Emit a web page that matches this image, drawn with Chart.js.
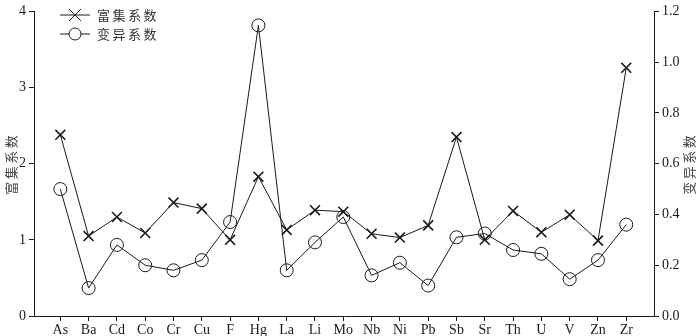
<!DOCTYPE html>
<html>
<head>
<meta charset="utf-8">
<script src="https://cdn.jsdelivr.net/npm/chart.js@4"></script>
<style>
  html, body { margin: 0; padding: 0; background: #fff; }
  #wrap { width: 700px; height: 336px; }
</style>
</head>
<body>
<div id="wrap"><canvas id="chart"></canvas></div>
<script>
// elements along the x axis
const ELEMENTS = ['As', 'Ba', 'Cd', 'Co', 'Cr', 'Cu', 'F', 'Hg', 'La', 'Li', 'Mo',
                  'Nb', 'Ni', 'Pb', 'Sb', 'Sr', 'Th', 'U', 'V', 'Zn', 'Zr'];

// 富集系数 (left axis)
const ENRICH = [2.38, 1.05, 1.30, 1.09, 1.49, 1.41, 1.00, 1.83, 1.13, 1.39, 1.37,
                1.08, 1.03, 1.19, 2.35, 1.00, 1.38, 1.10, 1.33, 0.99, 3.26];

// 变异系数 (right axis)
const VARIATION = [0.50, 0.11, 0.28, 0.20, 0.18, 0.22, 0.37, 1.145, 0.18, 0.29, 0.39,
                   0.16, 0.21, 0.12, 0.31, 0.325, 0.26, 0.245, 0.145, 0.22, 0.36];

const LEFT_TICKS = [0, 1, 2, 3, 4];
const RIGHT_TICKS = [0, 0.2, 0.4, 0.6, 0.8, 1.0, 1.2];

const INK = '#1a1a1a';
const SERIF = '"Liberation Serif", "DejaVu Serif", serif';
const CJK = '"Noto Sans CJK SC", sans-serif';

function toPoints(arr) {
    return arr.map((v, i) => ({ x: i, y: v }));
}

// legend drawn inside the plot + rotated axis titles
const decorPlugin = {
    id: 'decor',
    afterDraw(chart) {
        const ctx = chart.ctx;
        const area = chart.chartArea;
        ctx.save();
        ctx.strokeStyle = INK;
        ctx.lineWidth = 1;
        ctx.fillStyle = '#333';
        ctx.font = '13px ' + CJK;
        ctx.textBaseline = 'middle';
        ctx.letterSpacing = '2.5px';

        const rows = [
            { y: 15, text: '富集系数', style: 'cross' },
            { y: 34, text: '变异系数', style: 'circle' }
        ];
        rows.forEach(r => {
            ctx.beginPath();
            ctx.moveTo(60, r.y);
            ctx.lineTo(90, r.y);
            ctx.stroke();
            ctx.beginPath();
            if (r.style === 'cross') {
                ctx.moveTo(69, r.y - 6); ctx.lineTo(81, r.y + 6);
                ctx.moveTo(81, r.y - 6); ctx.lineTo(69, r.y + 6);
            } else {
                ctx.arc(75, r.y, 6, 0, Math.PI * 2);
                ctx.fillStyle = '#fff';
                ctx.fill();
                ctx.fillStyle = '#333';
            }
            ctx.stroke();
            ctx.fillText(r.text, 97, r.y);
        });

        // axis titles, both read bottom to top
        const midY = (area.top + area.bottom) / 2;
        ctx.textAlign = 'center';
        ctx.fillStyle = '#444';
        [[11, '富集系数'], [689, '变异系数']].forEach(([x, t]) => {
            ctx.save();
            ctx.translate(x, midY);
            ctx.rotate(-Math.PI / 2);
            ctx.fillText(t, 0, 0);
            ctx.restore();
        });
        ctx.restore();
    }
};

new Chart(document.getElementById('chart'), {
    type: 'line',
    data: {
        datasets: [{
            label: '富集系数',
            data: toPoints(ENRICH),
            yAxisID: 'y',
            borderColor: INK,
            borderWidth: 1,
            pointStyle: 'crossRot',
            pointRadius: 7,
            pointBorderWidth: 1.6,
            pointBorderColor: INK,
            backgroundColor: 'rgba(0,0,0,0)',
            tension: 0
        },
        {
            label: '变异系数',
            data: toPoints(VARIATION),
            yAxisID: 'y1',
            borderColor: INK,
            borderWidth: 1,
            pointStyle: 'circle',
            pointRadius: 6.5,
            pointBorderWidth: 1,
            pointBorderColor: INK,
            pointBackgroundColor: 'rgba(0,0,0,0)',
            backgroundColor: 'rgba(0,0,0,0)',
            tension: 0
        }]
    },
    options: {
        responsive: true,
        maintainAspectRatio: false,
        animation: false,
        layout: { padding: { top: 5, left: 0, right: 0, bottom: 0 } },
        plugins: {
            legend: { display: false },
            tooltip: { enabled: false }
        },
        scales: {
            x: {
                type: 'linear',
                min: -0.93,
                max: 20.98,
                afterBuildTicks: s => { s.ticks = ELEMENTS.map((_, i) => ({ value: i })); },
                afterFit: s => { s.height = 20; },
                grid: { drawOnChartArea: false, drawTicks: true, tickLength: 5, color: INK },
                border: { display: true, color: INK, width: 1 },
                ticks: {
                    autoSkip: false,
                    maxRotation: 0,
                    padding: 1,
                    color: INK,
                    font: { family: SERIF, size: 14 },
                    callback: v => ELEMENTS[v]
                }
            },
            y: {
                position: 'left',
                min: 0,
                max: 4,
                afterBuildTicks: s => { s.ticks = LEFT_TICKS.map(v => ({ value: v })); },
                afterFit: s => { s.width = 34; },
                grid: { drawOnChartArea: false, drawTicks: true, tickLength: 5, color: INK },
                border: { display: true, color: INK, width: 1 },
                ticks: {
                    padding: 3,
                    color: INK,
                    font: { family: SERIF, size: 14 }
                }
            },
            y1: {
                position: 'right',
                min: 0,
                max: 1.2,
                afterBuildTicks: s => { s.ticks = RIGHT_TICKS.map(v => ({ value: v })); },
                afterFit: s => { s.width = 46; },
                grid: { drawOnChartArea: false, drawTicks: true, tickLength: 5, color: INK },
                border: { display: true, color: INK, width: 1 },
                ticks: {
                    padding: 3,
                    color: INK,
                    font: { family: SERIF, size: 14 },
                    callback: v => v.toFixed(1)
                }
            }
        }
    },
    plugins: [decorPlugin]
});
</script>
</body>
</html>
